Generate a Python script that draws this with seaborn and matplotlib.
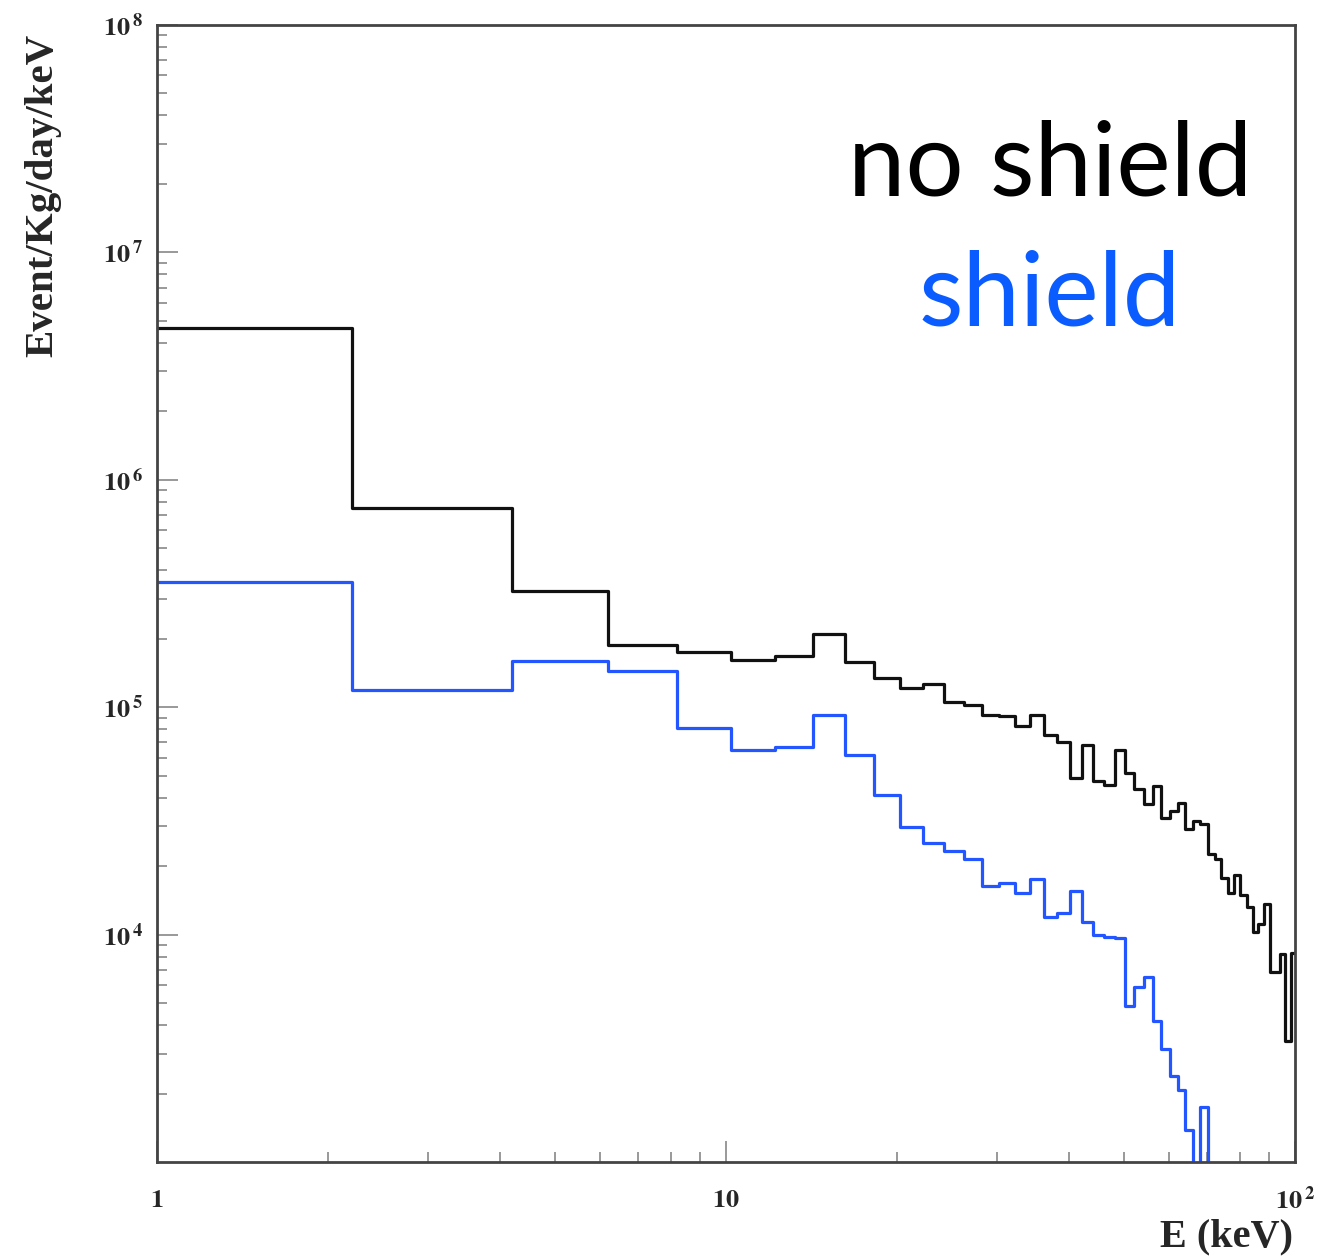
import numpy as np
import pandas as pd
import seaborn as sns
import matplotlib.pyplot as plt
from matplotlib.ticker import FixedLocator, FixedFormatter, NullFormatter

# bins: 2 keV wide, edges 0.2, 2.2, ..., 100.2
edges = [round(0.2 + 2.0 * k, 1) for k in range(51)]
centers = [e + 1.0 for e in edges[:-1]]

# Event/Kg/day/keV per bin
no_shield = [4.66e6, 7.53e5, 3.25e5, 1.88e5, 1.74e5, 1.62e5, 1.68e5, 2.10e5, 1.58e5, 1.35e5,
             1.21e5, 1.26e5, 1.05e5, 1.02e5, 9.27e4, 9.18e4, 8.30e4, 9.27e4, 7.57e4, 7.05e4,
             4.90e4, 6.84e4, 4.75e4, 4.56e4, 6.50e4, 5.15e4, 4.38e4, 3.77e4, 4.48e4, 3.27e4,
             3.51e4, 3.80e4, 2.90e4, 3.17e4, 3.05e4, 2.27e4, 2.14e4, 1.78e4, 1.53e4, 1.82e4,
             1.50e4, 1.32e4, 1.03e4, 1.11e4, 1.37e4, 6.87e3, 6.87e3, 8.24e3, 3.39e3, 8.30e3]
shield = [3.56e5, 1.19e5, 1.60e5, 1.445e5, 8.13e4, 6.50e4, 6.70e4, 9.27e4, 6.18e4, 4.12e4,
          2.98e4, 2.54e4, 2.34e4, 2.14e4, 1.64e4, 1.69e4, 1.53e4, 1.76e4, 1.19e4, 1.25e4,
          1.55e4, 1.14e4, 1.00e4, 9.80e3, 9.70e3, 4.83e3, 5.91e3, 6.53e3, 4.15e3, 3.13e3,
          2.40e3, 2.08e3, 1.38e3, 0.0, 1.74e3, 0.0, 0.0, 0.0, 0.0, 0.0,
          0.0, 0.0, 0.0, 0.0, 0.0, 0.0, 0.0, 0.0, 0.0, 0.0]

series_names = ["no shield", "shield"]
line_colors = {"no shield": "#111111", "shield": "#2456ff"}
text_colors = {"no shield": "#000000", "shield": "#0b5cff"}

df = pd.DataFrame({
    "E": centers + centers,
    "rate": no_shield + shield,
    "series": [series_names[0]] * len(centers) + [series_names[1]] * len(centers),
})

sns.set_style("white")
plt.rcParams["mathtext.fontset"] = "stix"

fig = plt.figure(figsize=(13.31, 12.56), dpi=100)
ax = fig.add_axes([157 / 1331, 1 - 1162 / 1256, (1295 - 157) / 1331, (1162 - 25) / 1256])

sns.histplot(data=df, x="E", weights="rate", hue="series", hue_order=series_names,
             palette=line_colors, bins=edges, element="step", fill=False,
             linewidth=2.3, legend=False, ax=ax)

ax.set_xscale("log")
ax.set_yscale("log")
ax.set_xlim(1, 100)
ax.set_ylim(1.0e3, 1e8)

# ROOT-like ticks
ax.xaxis.set_major_locator(FixedLocator([1, 10, 100]))
ax.xaxis.set_major_formatter(FixedFormatter([r"$\mathbf{1}$", r"$\mathbf{10}$", r"$\mathbf{10^{\,2}}$"]))
ax.xaxis.set_minor_locator(FixedLocator([m * d for d in (1, 10) for m in range(2, 10)]))
ax.xaxis.set_minor_formatter(NullFormatter())
yt = [1e4, 1e5, 1e6, 1e7, 1e8]
ax.yaxis.set_major_locator(FixedLocator(yt))
ax.yaxis.set_major_formatter(FixedFormatter([r"$\mathbf{10^{\,%d}}$" % k for k in range(4, 9)]))
ax.yaxis.set_minor_locator(FixedLocator([m * 10.0 ** d for d in range(3, 8) for m in range(2, 10)]))
ax.yaxis.set_minor_formatter(NullFormatter())

ax.tick_params(which="both", direction="in", bottom=True, left=True, top=False, right=False,
               color="#888888", width=1.2)
ax.tick_params(which="major", length=15, labelsize=19)
ax.tick_params(which="minor", length=7)
ax.tick_params(axis="x", which="major", pad=18)
ax.tick_params(axis="y", which="major", pad=10)

for s in ax.spines.values():
    s.set_color("#444444")
    s.set_linewidth(2)

ax.set_xlabel("")
ax.set_ylabel("")
fig.text(43 / 1331, 1 - 195 / 1256, "Event/Kg/day/keV", rotation=90, ha="center", va="center",
         fontsize=29.5, fontweight="bold", family="Liberation Serif")
fig.text(1293 / 1331, 1 - 1237 / 1256, "E (keV)", ha="right", va="center",
         fontsize=29, fontweight="bold", family="Liberation Serif")

# annotations instead of a legend
fig.text(1050 / 1331, 1 - 196 / 1256, "no shield", ha="center", va="baseline",
         fontsize=74, family="Lato", color=text_colors["no shield"])
fig.text(1050 / 1331, 1 - 326 / 1256, "shield", ha="center", va="baseline",
         fontsize=74, family="Lato", color=text_colors["shield"])

fig.savefig("out.png", dpi=100)
